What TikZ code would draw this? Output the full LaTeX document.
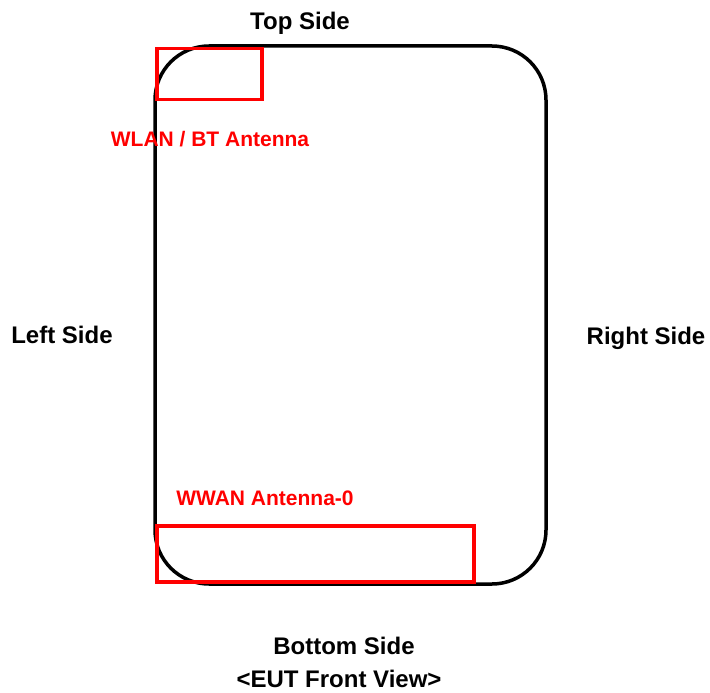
\documentclass[tikz,border=0pt]{standalone}
\usepackage{fontspec}
\setmainfont{Liberation Sans}
\usepackage{tikz}
\usetikzlibrary{calc}

\begin{document}
\begin{tikzpicture}[x=1pt,y=-1pt,
    lbl/.style={font=\fontsize{24}{28}\selectfont\bfseries,inner sep=0pt},
    ant/.style={draw=red,line width=3.5pt},
    antlbl/.style={font=\fontsize{21}{25}\selectfont\bfseries,inner sep=0pt,text=red}]
    \useasboundingbox (0,0) rectangle (710,693);
    % body of the device
    \draw[line width=3.5pt,rounded corners=54pt] (155,46) rectangle (546,584);
    % antenna areas
    \node (wlan) [ant,inner sep=0pt,minimum width=105pt,minimum height=51pt,anchor=north west] at (155,47) {};
    \node (wwan) [ant,inner sep=0pt,minimum width=317pt,minimum height=56pt,anchor=north west] at (155,524) {};
    \node (wlanL) at (210,139) [antlbl] {WLAN / BT Antenna};
    \node (wwanL) at (265,498) [antlbl] {WWAN Antenna-0};
    % sides
    \node (top) at (300,23) [lbl] {Top Side};
    \node (left) at (62,335) [lbl] {Left Side};
    \node (right) at (646,338) [lbl] {Right Side};
    \node (bottom) at (344,646) [lbl] {Bottom Side};
    \node (view) at (339,679) [lbl] {<EUT Front View>};
\end{tikzpicture}
\end{document}
